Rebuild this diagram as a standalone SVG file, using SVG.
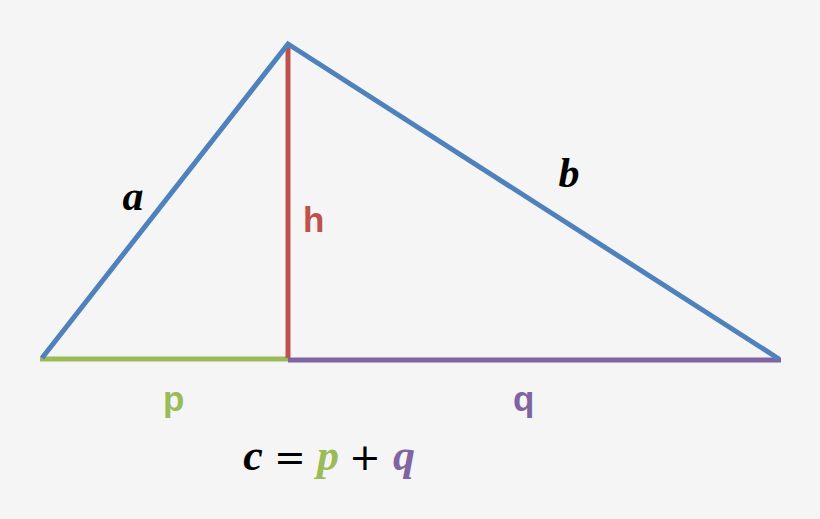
<svg xmlns="http://www.w3.org/2000/svg" width="820" height="519" viewBox="0 0 820 519">
<style>
.ln{stroke-width:5;stroke-linecap:butt;fill:none}
.m{font-family:"Liberation Serif","DejaVu Serif",serif;font-weight:bold;font-style:italic;text-anchor:middle}
.s{font-family:"Liberation Sans","DejaVu Sans",sans-serif;font-weight:bold}
.op{font-family:"DejaVu Sans",sans-serif;fill:#000;text-anchor:middle}
</style>
<rect width="820" height="519" fill="#f5f5f5"/>
<g id="connectors">
<line class="ln" x1="40" y1="359" x2="288" y2="359" stroke="#9bbb59"/>
<line class="ln" x1="288" y1="360" x2="781" y2="360" stroke="#8064a2"/>
<line class="ln" x1="288" y1="44" x2="288" y2="358" stroke="#c0504d"/>
<polyline class="ln" points="42,358 288,44 779,359" stroke="#4f81bd" stroke-linejoin="miter"/>
</g>
<g id="label-a"><text class="m" x="133" y="210" font-size="42" fill="#000">a</text></g>
<g id="label-b"><text class="m" x="569" y="187" font-size="42" fill="#000">b</text></g>
<g id="label-h"><text class="s" x="303" y="232" font-size="35" fill="#c0504d">h</text></g>
<g id="label-p"><text class="s" x="163" y="411" font-size="35" fill="#9bbb59">p</text></g>
<g id="label-q"><text class="s" x="513" y="411" font-size="35" fill="#8064a2">q</text></g>
<g id="equation">
<text class="m" x="253" y="470" font-size="44" fill="#000">c</text>
<text class="op" x="290" y="470" font-size="38">=</text>
<text class="m" x="328" y="470" font-size="44" fill="#9bbb59">p</text>
<text class="op" x="365" y="470" font-size="38">+</text>
<text class="m" x="404" y="470" font-size="44" fill="#8064a2">q</text>
</g>
</svg>
